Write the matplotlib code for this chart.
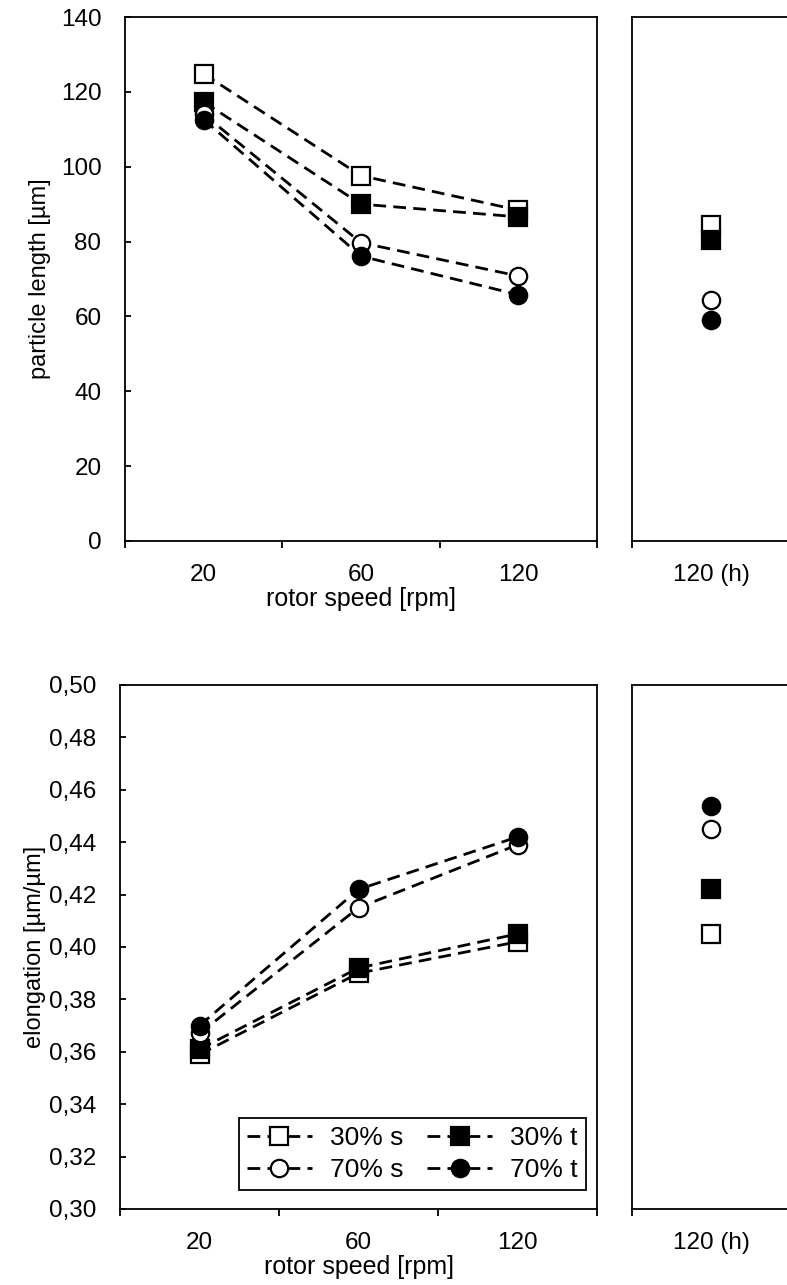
import matplotlib
matplotlib.use("Agg")
import matplotlib.pyplot as plt
from matplotlib.ticker import FixedLocator, FuncFormatter, NullFormatter

plt.rcParams['font.family'] = ['Liberation Sans', 'DejaVu Sans']

# ---------------- data ----------------
categories = ['20', '60', '120']
hand_category = ['120 (h)']
series_labels = ['30% s', '30% t', '70% s', '70% t']

length_30s = [124.8, 97.6, 88.4]
length_30t = [117.3, 90.0, 86.6]
length_70s = [114.0, 79.7, 70.8]
length_70t = [112.6, 76.1, 65.8]
length_h = [84.4, 80.3, 64.3, 59.0]          # 30% s, 30% t, 70% s, 70% t

elong_30s = [0.359, 0.390, 0.402]
elong_30t = [0.361, 0.392, 0.405]
elong_70s = [0.367, 0.415, 0.439]
elong_70t = [0.370, 0.422, 0.442]
elong_h = [0.405, 0.422, 0.445, 0.454]       # 30% s, 30% t, 70% s, 70% t

length_ticks = [0, 20, 40, 60, 80, 100, 120, 140]
elong_ticks = [0.30, 0.32, 0.34, 0.36, 0.38, 0.40, 0.42, 0.44, 0.46, 0.48, 0.50]

# ---------------- styles ----------------
W, H = 787, 1285
DPI = 100
marker_styles = [
    dict(marker='s', mfc='white', mec='black'),
    dict(marker='s', mfc='black', mec='black'),
    dict(marker='o', mfc='white', mec='black'),
    dict(marker='o', mfc='black', mec='black'),
]
MS = 12.5
MEW = 1.6
LW = 2.0
DASH = (4.6, 2.6)
SPINE_LW = 1.3
FS = 17.5
XLAB_FS = 18
YLAB_FS = 17
LEG_FS = 19

fig = plt.figure(figsize=(W / DPI, H / DPI), dpi=DPI)


def px_axes(x0, x1, ytop, ybot):
    return fig.add_axes([x0 / W, (H - ybot) / H, (x1 - x0) / W, (ybot - ytop) / H])


def style_axes(ax, n, yticks, ylim, fmt, show_y=True):
    ax.set_xlim(-0.5, n - 0.5)
    ax.set_ylim(*ylim)
    for s in ax.spines.values():
        s.set_linewidth(SPINE_LW)
    ax.xaxis.set_major_locator(FixedLocator([i - 0.5 for i in range(n + 1)]))
    ax.xaxis.set_major_formatter(NullFormatter())
    ax.xaxis.set_minor_locator(FixedLocator(list(range(n))))
    ax.tick_params(axis='x', which='major', direction='out', length=5, width=SPINE_LW,
                   top=False, bottom=True)
    ax.tick_params(axis='x', which='minor', length=0, pad=16.5, labelsize=FS)
    if show_y:
        ax.yaxis.set_major_locator(FixedLocator(yticks))
        ax.yaxis.set_major_formatter(FuncFormatter(fmt))
        ax.tick_params(axis='y', which='major', direction='in', length=4.3, width=SPINE_LW,
                       pad=17, labelsize=FS, left=True, right=False)
    else:
        ax.set_yticks([])


def draw_lines(ax, xs, data):
    handles = []
    for vals, st, lab in zip(data, marker_styles, series_labels):
        ln, = ax.plot(xs, vals, linestyle='--', dashes=DASH, color='black', lw=LW,
                      ms=MS, mew=MEW, label=lab, clip_on=False, **st)
        handles.append(ln)
    return handles


def draw_points(ax, vals):
    for v, st in zip(vals, marker_styles):
        ax.plot([0], [v], linestyle='none', ms=MS, mew=MEW, clip_on=False, **st)


fmt_int = lambda v, p: f"{v:.0f}"
fmt_comma = lambda v, p: f"{v:.2f}".replace('.', ',')

# ---------------- top panel ----------------
ax1 = px_axes(125, 597, 17, 541)
style_axes(ax1, 3, length_ticks, (0, 140), fmt_int)
ax1.xaxis.set_minor_formatter(FuncFormatter(lambda v, p: categories[int(round(v))]))
draw_lines(ax1, list(range(len(categories))),
           [length_30s, length_30t, length_70s, length_70t])

ax1h = px_axes(632, 790, 17, 541)
style_axes(ax1h, 1, length_ticks, (0, 140), fmt_int, show_y=False)
ax1h.xaxis.set_minor_formatter(FuncFormatter(lambda v, p: hand_category[0]))
draw_points(ax1h, length_h)

fig.text(40 / W, 1 - 279 / H, 'particle length [µm]', rotation=90,
         ha='center', va='center', fontsize=YLAB_FS)
fig.text(361 / W, 1 - 599 / H, 'rotor speed [rpm]', ha='center', va='center', fontsize=XLAB_FS)

# ---------------- bottom panel ----------------
ax2 = px_axes(120, 597, 685, 1209)
style_axes(ax2, 3, elong_ticks, (0.30, 0.50), fmt_comma)
ax2.xaxis.set_minor_formatter(FuncFormatter(lambda v, p: categories[int(round(v))]))
handles = draw_lines(ax2, list(range(len(categories))),
                     [elong_30s, elong_30t, elong_70s, elong_70t])

ax2h = px_axes(632, 790, 685, 1209)
style_axes(ax2h, 1, elong_ticks, (0.30, 0.50), fmt_comma, show_y=False)
ax2h.xaxis.set_minor_formatter(FuncFormatter(lambda v, p: hand_category[0]))
draw_points(ax2h, elong_h)

fig.text(35 / W, 1 - 947 / H, 'elongation [µm/µm]', rotation=90,
         ha='center', va='center', fontsize=YLAB_FS)
fig.text(359 / W, 1 - 1267 / H, 'rotor speed [rpm]', ha='center', va='center', fontsize=XLAB_FS)

# legend is filled column-wise: reorder so rows read 30% s | 30% t, 70% s | 70% t
leg_handles = [handles[0], handles[2], handles[1], handles[3]]
leg = ax2.legend(handles=leg_handles, ncol=2, loc='lower right',
                 bbox_to_anchor=(586 / W, (H - 1190) / H), bbox_transform=fig.transFigure,
                 fontsize=LEG_FS, frameon=True, fancybox=False, framealpha=1,
                 edgecolor='black', handlelength=2.45, handletextpad=0.7,
                 columnspacing=0.9, borderpad=0.3, labelspacing=0.3,
                 borderaxespad=0, numpoints=1)
leg.get_frame().set_linewidth(1.3)

fig.savefig('out.png', dpi=DPI)
